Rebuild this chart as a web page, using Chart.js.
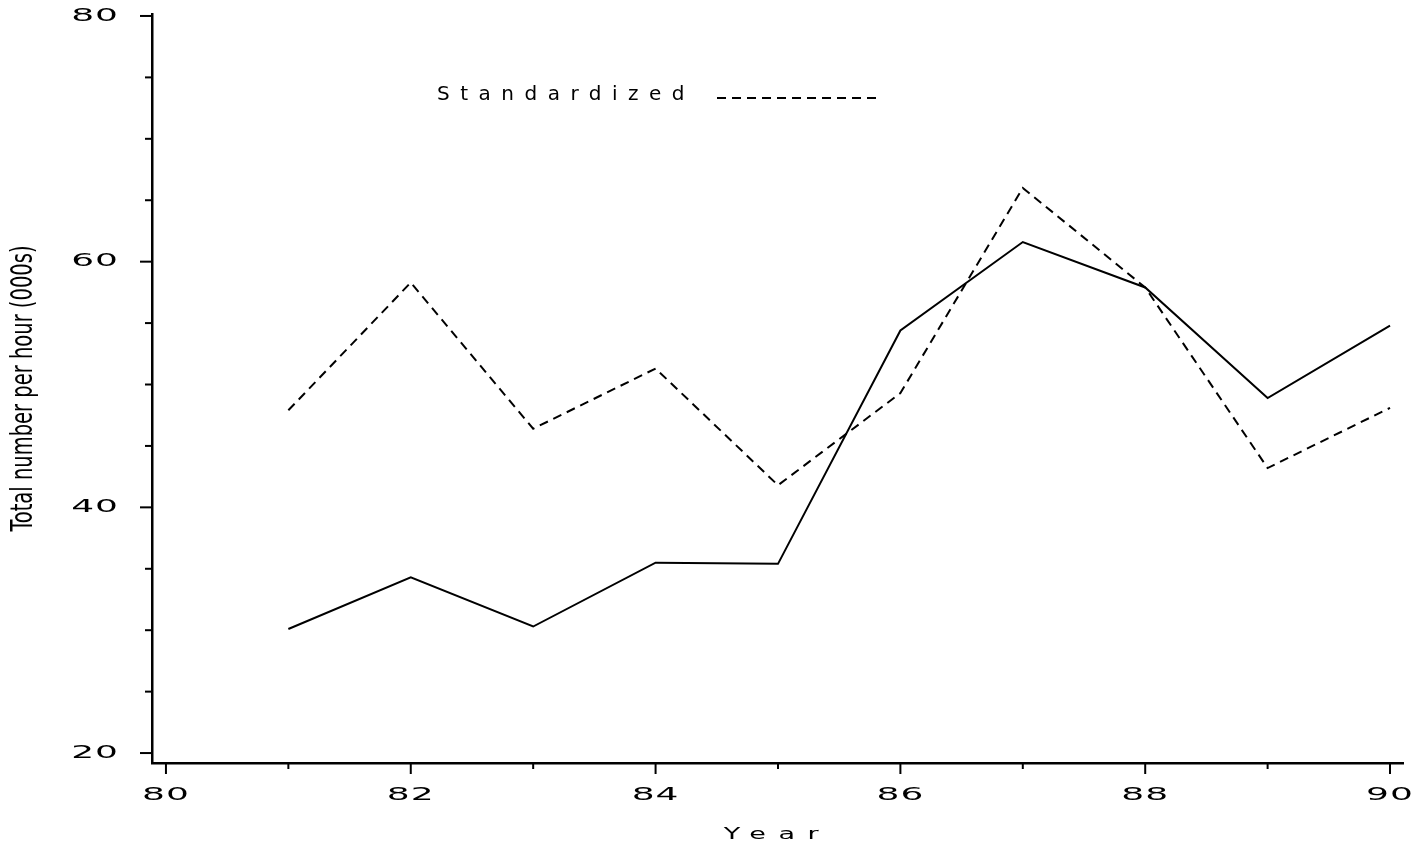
<!DOCTYPE html>
<html>
<head>
<meta charset="utf-8">
<script src="https://cdn.jsdelivr.net/npm/chart.js@4/dist/chart.umd.min.js"></script>
<style>
  html, body { margin: 0; padding: 0; background: #fff; }
  #wrap { width: 1427px; height: 848px; position: relative; }
</style>
</head>
<body>
<div id="wrap"><canvas id="c" width="1427" height="848"></canvas></div>
<script>
// ---- data ----
const years = [81, 82, 83, 84, 85, 86, 87, 88, 89, 90];
const totalValues = [30.1, 34.3, 30.3, 35.5, 35.4, 54.4, 61.6, 57.9, 48.9, 54.8];
const standardizedValues = [47.9, 58.3, 46.4, 51.3, 41.8, 49.3, 66.0, 57.9, 43.2, 48.1];
const xTickValues = [80, 81, 82, 83, 84, 85, 86, 87, 88, 89, 90];
const xLabelValues = [80, 82, 84, 86, 88, 90];
const yTickValues = [20, 25, 30, 35, 40, 45, 50, 55, 60, 65, 70, 75, 80];
const yLabelValues = [20, 40, 60, 80];
const legendLabel = 'Standardized';
const xTitle = 'Year';
const yTitle = 'Total number per hour (000s)';

const toPoints = (vals) => years.map((y, i) => ({ x: y, y: vals[i] }));

// draw text horizontally stretched (along the text direction), with letter spacing
const protoFill = CanvasRenderingContext2D.prototype.fillText;
function stretched(ctx, sx, spacing, fn) {
  const oldLs = ctx.letterSpacing;
  ctx.letterSpacing = spacing;
  ctx.fillText = function (t, x, y, ...rest) {
    this.save();
    this.scale(sx, 1);
    protoFill.call(this, t, x / sx, y, ...rest);
    this.restore();
  };
  try { fn(); } finally { delete ctx.fillText; ctx.letterSpacing = oldLs; }
}

const stylePlugin = {
  id: 'textStyle',
  beforeDraw(chart) {
    for (const s of Object.values(chart.scales)) {
      if (s.__patched) continue;
      s.__patched = true;
      const dl = s.drawLabels;
      s.drawLabels = function (a) { stretched(this.ctx, 2.0, '0.5px', () => dl.call(this, a)); };
      const dt = s.drawTitle;
      if (s.id === 'x') {
        s.drawTitle = function () { stretched(this.ctx, 1.8, '7px', () => dt.call(this)); };
      } else {
        s.drawTitle = function () { stretched(this.ctx, 0.70, '0px', () => dt.call(this)); };
      }
    }
  }
};

// outward tick marks (major longer than minor)
const tickPlugin = {
  id: 'tickMarks',
  afterDraw(chart) {
    const ctx = chart.ctx, xs = chart.scales.x, ys = chart.scales.y;
    const a = chart.chartArea;
    ctx.save();
    ctx.strokeStyle = '#000';
    ctx.lineWidth = 2;
    xTickValues.forEach(v => {
      const px = xs.getPixelForValue(v);
      const len = xLabelValues.includes(v) ? 11 : 6;
      ctx.beginPath(); ctx.moveTo(px, a.bottom); ctx.lineTo(px, a.bottom + len); ctx.stroke();
    });
    yTickValues.forEach(v => {
      const py = ys.getPixelForValue(v);
      const len = yLabelValues.includes(v) ? 12 : 7;
      ctx.beginPath(); ctx.moveTo(a.left, py); ctx.lineTo(a.left - len, py); ctx.stroke();
    });
    ctx.restore();
  }
};

// in-plot legend: text + dashed sample
const legendPlugin = {
  id: 'inLegend',
  afterDraw(chart) {
    const ctx = chart.ctx;
    ctx.save();
    ctx.fillStyle = '#000';
    ctx.font = '20px "DejaVu Sans", sans-serif';
    ctx.letterSpacing = '10.5px';
    ctx.textBaseline = 'alphabetic';
    ctx.textAlign = 'left';
    ctx.fillText(legendLabel, 437, 100);
    ctx.letterSpacing = '0px';
    ctx.strokeStyle = '#000';
    ctx.lineWidth = 2;
    ctx.setLineDash([9, 6]);
    ctx.beginPath(); ctx.moveTo(717, 98); ctx.lineTo(882, 98); ctx.stroke();
    ctx.restore();
  }
};

new Chart(document.getElementById('c'), {
  type: 'line',
  data: {
    datasets: [
      {
        label: 'Total',
        data: toPoints(totalValues),
        borderColor: '#000',
        borderWidth: 2,
        pointRadius: 0,
        tension: 0,
        fill: false
      },
      {
        label: legendLabel,
        data: toPoints(standardizedValues),
        borderColor: '#000',
        borderWidth: 2,
        borderDash: [9, 6],
        pointRadius: 0,
        tension: 0,
        fill: false
      }
    ]
  },
  options: {
    responsive: false,
    animation: false,
    devicePixelRatio: 1,
    layout: { autoPadding: false, padding: { top: 14, right: 24, left: 0, bottom: 0 } },
    plugins: { legend: { display: false }, tooltip: { enabled: false }, title: { display: false } },
    scales: {
      x: {
        type: 'linear',
        min: 79.886,
        max: 90.106,
        afterBuildTicks: (s) => { s.ticks = xTickValues.map(v => ({ value: v })); },
        afterFit: (s) => { s.height = 85; s.paddingLeft = 0; s.paddingRight = 0; },
        grid: { display: false },
        border: { display: true, color: '#000', width: 2.5 },
        ticks: {
          autoSkip: false,
          maxRotation: 0,
          padding: 14,
          color: '#000',
          font: { family: '"DejaVu Sans", sans-serif', size: 18 },
          callback: (v) => xLabelValues.includes(v) ? String(v) : ''
        },
        title: {
          display: true,
          text: xTitle,
          color: '#000',
          font: { family: '"DejaVu Sans", sans-serif', size: 15 },
          padding: { top: 0, bottom: 4 }
        }
      },
      y: {
        type: 'linear',
        min: 19.19,
        max: 80.16,
        afterBuildTicks: (s) => { s.ticks = yTickValues.map(v => ({ value: v })); },
        afterFit: (s) => { s.width = 152; s.paddingTop = 0; s.paddingBottom = 0; },
        grid: { display: false },
        border: { display: true, color: '#000', width: 2.5 },
        ticks: {
          autoSkip: false,
          padding: 25,
          color: '#000',
          font: { family: '"DejaVu Sans", sans-serif', size: 18 },
          callback: (v) => yLabelValues.includes(v) ? String(v) : ''
        },
        title: {
          display: true,
          text: yTitle,
          color: '#000',
          font: { family: '"Liberation Sans Narrow", "DejaVu Sans Condensed", sans-serif', size: 31 },
          padding: { top: 5, bottom: 0 }
        }
      }
    }
  },
  plugins: [stylePlugin, tickPlugin, legendPlugin]
});
</script>
</body>
</html>
